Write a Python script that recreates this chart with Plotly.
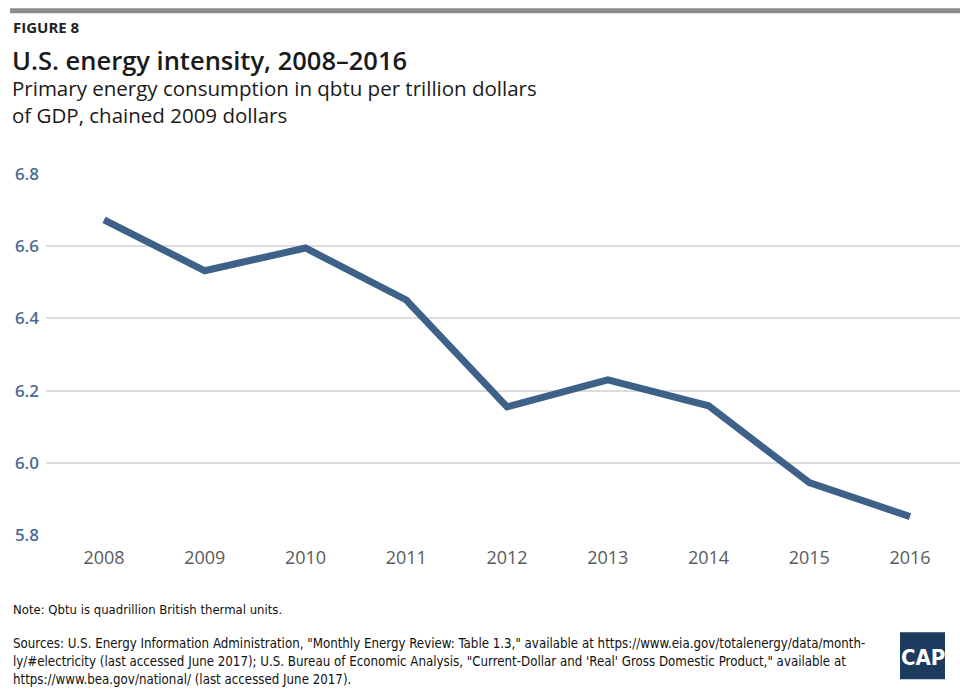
import plotly.graph_objects as go

# U.S. energy intensity, qbtu per trillion chained-2009 dollars of GDP
years = [2008, 2009, 2010, 2011, 2012, 2013, 2014, 2015, 2016]
intensity = [6.673, 6.532, 6.595, 6.451, 6.155, 6.230, 6.158, 5.945, 5.851]
y_ticks = [5.8, 6.0, 6.2, 6.4, 6.6, 6.8]

W, H = 960, 697
M_L, M_R, M_T, M_B = 46, 0, 174, 161.5
PLOT_H = H - M_T - M_B
PLOT_W = W - M_L - M_R


def py(ypix):
    """Pixel row (from top) to paper y."""
    return (H - M_B - ypix) / PLOT_H


def px(xpix):
    """Pixel column to paper x."""
    return (xpix - M_L) / PLOT_W


fig = go.Figure()
fig.add_trace(go.Scatter(
    x=years, y=intensity, mode="lines",
    line=dict(color="#3d6189", width=7),
    hoverinfo="x+y", showlegend=False,
))

title_font = "Open Sans, Noto Sans, sans-serif"
narrow_font = "DejaVu Sans Condensed, Liberation Sans, sans-serif"

annotations = [
    dict(text="FIGURE 8", x=px(11), y=py(27),
         font=dict(size=15, color="#222", family=title_font, weight=700)),
    dict(text="U.S. energy intensity, 2008–2016", x=px(10), y=py(60),
         font=dict(size=25.5, color="#1a1a1a", family=title_font, weight=600)),
    dict(text="Primary energy consumption in qbtu per trillion dollars", x=px(10), y=py(87.5),
         font=dict(size=20.5, color="#1a1a1a", family=title_font)),
    dict(text="of GDP, chained 2009 dollars", x=px(10), y=py(115),
         font=dict(size=20.5, color="#1a1a1a", family=title_font)),
    dict(text="Note: Qbtu is quadrillion British thermal units.", x=px(11), y=py(610),
         font=dict(size=13, color="#111", family=narrow_font)),
    dict(text="Sources: U.S. Energy Information Administration, \"Monthly Energy Review: Table 1.3,\" "
              "available at https://www.eia.gov/totalenergy/data/month-", x=px(11), y=py(644),
         font=dict(size=13.2, color="#111", family=narrow_font)),
    dict(text="ly/#electricity (last accessed June 2017); U.S. Bureau of Economic Analysis, "
              "\"Current-Dollar and 'Real' Gross Domestic Product,\" available at", x=px(11), y=py(662),
         font=dict(size=13.2, color="#111", family=narrow_font)),
    dict(text="https://www.bea.gov/national/ (last accessed June 2017).", x=px(11), y=py(680),
         font=dict(size=13.2, color="#111", family=narrow_font)),
    dict(text="CAP", x=px(922.5), y=py(658), xanchor="center",
         font=dict(size=22, color="white", family="DejaVu Sans Condensed, Liberation Sans, sans-serif",
                   weight=700)),
]
for a in annotations:
    a.setdefault("xanchor", "left")
    a.update(xref="paper", yref="paper", yanchor="middle", showarrow=False)

shapes = [
    # grey rule across the top
    dict(type="rect", xref="paper", yref="paper", x0=px(10), x1=px(960), y0=py(8), y1=py(13),
         fillcolor="#8c8c8c", line=dict(width=0), layer="below"),
    # logo tile
    dict(type="rect", xref="paper", yref="paper", x0=px(900), x1=px(945), y0=py(633), y1=py(680),
         fillcolor="#1c3b5e", line=dict(width=0)),
]

fig.update_layout(
    width=W, height=H,
    margin=dict(l=M_L, r=M_R, t=M_T, b=M_B),
    paper_bgcolor="white", plot_bgcolor="white",
    annotations=annotations, shapes=shapes,
    xaxis=dict(
        range=[2007.424, 2016.496], tickvals=years, ticktext=[str(y) for y in years],
        showgrid=False, zeroline=False, showline=False, ticks="",
        tickfont=dict(size=18, color="#5a5a5a", family=title_font),
        ticklabelstandoff=10,
    ),
    yaxis=dict(
        range=[5.8, 6.8], tickvals=y_ticks, ticktext=[f"{v:.1f}" for v in y_ticks],
        showgrid=True, gridcolor="#dcdcdc", gridwidth=2, zeroline=False, showline=False, ticks="",
        tickfont=dict(size=17, color="#4a6d94", family=title_font, weight=600),
        ticklabelstandoff=6,
    ),
)

fig.write_html("out.html")
